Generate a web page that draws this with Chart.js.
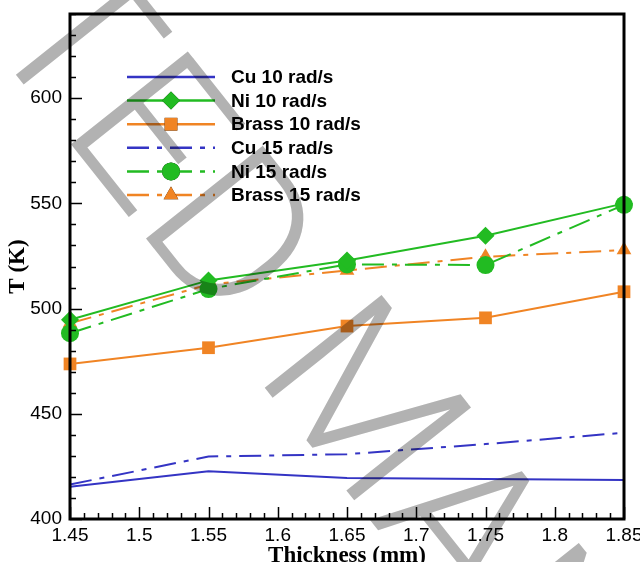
<!DOCTYPE html>
<html>
<head>
<meta charset="utf-8">
<script src="https://cdn.jsdelivr.net/npm/chart.js@4.4.1/dist/chart.umd.min.js"></script>
<style>
    html, body { margin: 0; padding: 0; background: #fff; overflow: hidden; }
    #wrap { width: 640px; height: 562px; position: relative; }
</style>
</head>
<body>
<div id="wrap"><canvas id="chart"></canvas></div>
<script>
// thickness (mm) on x, temperature (K) on y
const thickness = [1.45, 1.55, 1.65, 1.75, 1.85];
const cu10 = [415.3, 422.7, 419.5, 419.0, 418.5];
const ni10 = [494.7, 513.4, 522.9, 534.6, 550.0];
const brass10 = [473.7, 481.4, 491.7, 495.6, 508.0];
const cu15 = [416.4, 429.7, 430.8, 435.6, 441.0];
const ni15 = [488.3, 509.3, 521.0, 520.7, 549.3];
const brass15 = [493.0, 511.4, 518.1, 524.6, 527.8];

const xTicks = [1.45, 1.5, 1.55, 1.6, 1.65, 1.7, 1.75, 1.8, 1.85];
const yTicks = [400, 450, 500, 550, 600];

const BLUE = "#3434c4";
const GREEN = "#22bb22";
const ORANGE = "#f08424";
const DASHDOT = [22, 8, 5, 8];

function pts(ys) {
    return thickness.map((x, i) => ({ x: x, y: ys[i] }));
}

function series(label, ys, color, dash, marker, radius) {
    return {
        label: label,
        data: pts(ys),
        borderColor: color,
        backgroundColor: color,
        borderWidth: 2,
        borderDash: dash,
        pointStyle: marker || "circle",
        pointRadius: marker ? radius : 0,
        pointBorderWidth: 0,
        pointBackgroundColor: color,
        tension: 0,
        clip: false,
    };
}

const datasets = [
    series("Cu 10 rad/s", cu10, BLUE, [], null, 0),
    series("Ni 10 rad/s", ni10, GREEN, [], "rectRot", 9),
    series("Brass 10 rad/s", brass10, ORANGE, [], "rect", 9),
    series("Cu 15 rad/s", cu15, BLUE, DASHDOT, null, 0),
    series("Ni 15 rad/s", ni15, GREEN, DASHDOT, "circle", 9),
    series("Brass 15 rad/s", brass15, ORANGE, DASHDOT, "triangle", 8.5),
];

// inward ticks, box frame and in-plot legend
const framePlugin = {
    id: "frame",
    afterDatasetsDraw(chart) {
        const { ctx, chartArea: a, scales } = chart;
        ctx.save();
        ctx.strokeStyle = "#000";
        ctx.lineWidth = 1.5;
        ctx.beginPath();
        for (let v = 1.45; v <= 1.8501; v += 0.01) {
            const major = Math.abs(Math.round(v * 20) - v * 20) < 1e-6;
            const px = Math.round(scales.x.getPixelForValue(v)) + 0.5;
            ctx.moveTo(px, a.bottom);
            ctx.lineTo(px, a.bottom - (major ? 12 : 6));
        }
        for (let v = 400; v <= 640; v += 10) {
            const major = v % 50 === 0;
            const py = Math.round(scales.y.getPixelForValue(v)) + 0.5;
            ctx.moveTo(a.left, py);
            ctx.lineTo(a.left + (major ? 12 : 6), py);
        }
        ctx.stroke();
        ctx.lineWidth = 3;
        ctx.strokeRect(a.left, a.top, a.right - a.left, a.bottom - a.top);

        // legend
        const x0 = 127, x1 = 215, tx = 231;
        let y = 77;
        chart.data.datasets.forEach((ds) => {
            ctx.strokeStyle = ds.borderColor;
            ctx.lineWidth = 2.5;
            ctx.setLineDash(ds.borderDash);
            ctx.beginPath();
            ctx.moveTo(x0, y);
            ctx.lineTo(x1, y);
            ctx.stroke();
            ctx.setLineDash([]);
            if (ds.pointRadius > 0) {
                Chart.helpers.drawPoint(ctx, {
                    pointStyle: ds.pointStyle,
                    radius: ds.pointRadius,
                    borderWidth: 0,
                    rotation: 0,
                }, (x0 + x1) / 2, y);
                ctx.fillStyle = ds.pointBackgroundColor;
                ctx.fill();
            }
            ctx.fillStyle = "#000";
            ctx.font = "bold 19px 'Liberation Sans', Arial, sans-serif";
            ctx.textBaseline = "middle";
            ctx.textAlign = "left";
            ctx.fillText(ds.label, tx, y + 1);
            y += 23.6;
        });
        ctx.restore();
    },
    afterDraw(chart) {
        // grey diagonal watermark of the source page
        const ctx = chart.ctx;
        const ang = 51.5 * Math.PI / 180;
        ctx.save();
        ctx.globalCompositeOperation = "multiply";
        ctx.fillStyle = "#b2b2b2";
        ctx.font = "300 210px Roboto, 'Noto Sans', sans-serif";
        ctx.letterSpacing = "1px";
        ctx.textBaseline = "alphabetic";
        ctx.textAlign = "left";
        const lead = ctx.measureText("ACCEP").width + ctx.measureText("T").width / 2;
        ctx.translate(20 - Math.cos(ang) * lead, 80 - Math.sin(ang) * lead);
        ctx.rotate(ang);
        ctx.fillText("ACCEPTED MANUSCRIPT", 0, 0);
        ctx.restore();
    },
};

new Chart(document.getElementById("chart"), {
    type: "line",
    data: { datasets: datasets },
    options: {
        responsive: true,
        maintainAspectRatio: false,
        animation: false,
        layout: { padding: { top: 14, right: 16, left: 0, bottom: 0 } },
        plugins: { legend: { display: false }, tooltip: { enabled: false } },
        scales: {
            x: {
                type: "linear",
                min: 1.45,
                max: 1.85,
                grid: { display: false, drawTicks: false },
                border: { display: false },
                afterBuildTicks: (s) => { s.ticks = xTicks.map((v) => ({ value: v })); },
                afterFit: (s) => { s.height = 43; s.paddingLeft = 0; s.paddingRight = 0; },
                ticks: {
                    color: "#000",
                    padding: 5,
                    maxRotation: 0,
                    autoSkip: false,
                    font: { family: "'Liberation Sans', Arial, sans-serif", size: 19 },
                    callback: (v) => String(Math.round(v * 100) / 100),
                },
                title: {
                    display: true,
                    text: "Thickness (mm)",
                    color: "#000",
                    padding: { top: 0, bottom: -8 },
                    font: { family: "'Liberation Serif', 'Times New Roman', serif", size: 23, weight: "bold" },
                },
            },
            y: {
                min: 400,
                max: 640,
                grid: { display: false, drawTicks: false },
                border: { display: false },
                afterBuildTicks: (s) => { s.ticks = yTicks.map((v) => ({ value: v })); },
                afterFit: (s) => { s.width = 70; s.paddingTop = 0; s.paddingBottom = 0; },
                ticks: {
                    color: "#000",
                    padding: 8,
                    font: { family: "'Liberation Sans', Arial, sans-serif", size: 19 },
                },
                title: {
                    display: true,
                    text: "T (K)",
                    color: "#000",
                    padding: { top: 4, bottom: 0 },
                    font: { family: "'Liberation Serif', 'Times New Roman', serif", size: 23, weight: "bold" },
                },
            },
        },
    },
    plugins: [framePlugin],
});
</script>
</body>
</html>
